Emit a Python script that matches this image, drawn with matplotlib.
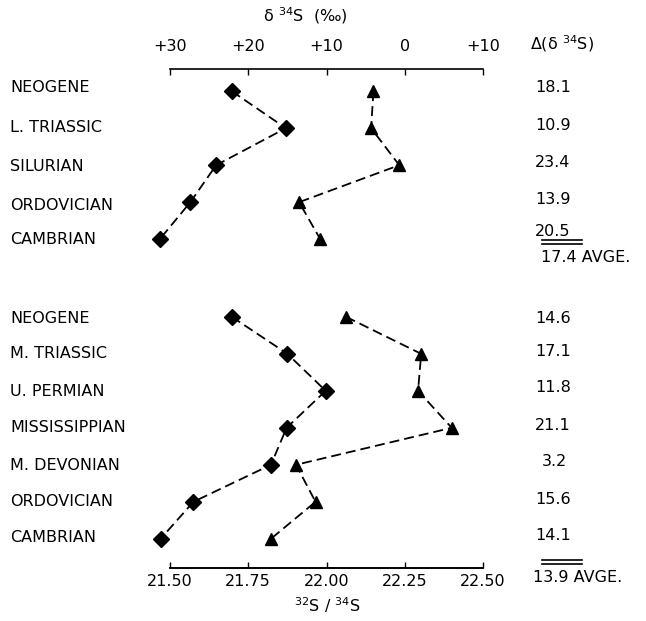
import matplotlib
matplotlib.use("Agg")
import matplotlib.pyplot as plt
from matplotlib.lines import Line2D

# ---- data (delta 34S, per mil) ----
upper_periods = ["NEOGENE", "L. TRIASSIC", "SILURIAN", "ORDOVICIAN", "CAMBRIAN"]
upper_sulfate = [22.1, 15.2, 24.1, 27.4, 31.3]      # diamonds
upper_sulfide = [4.0, 4.3, 0.7, 13.5, 10.8]          # triangles
upper_delta = ["18.1", "10.9", "23.4", "13.9", "20.5"]
upper_avg = "17.4"

lower_periods = ["NEOGENE", "M. TRIASSIC", "U. PERMIAN", "MISSISSIPPIAN",
                 "M. DEVONIAN", "ORDOVICIAN", "CAMBRIAN"]
lower_sulfate = [22.1, 15.0, 10.1, 15.1, 17.1, 27.0, 31.2]
lower_sulfide = [7.5, -2.1, -1.7, -6.0, 13.9, 11.4, 17.1]
lower_delta = ["14.6", "17.1", "11.8", "21.1", "3.2", "15.6", "14.1"]
lower_avg = "13.9"

top_ticks = [30, 20, 10, 0, -10]
top_ticklabels = ["+30", "+20", "+10", "0", "+10"]
ratio_ticks = [21.50, 21.75, 22.00, 22.25, 22.50]
ratio_ticklabels = ["21.50", "21.75", "22.00", "22.25", "22.50"]

FONT = "DejaVu Sans"
plt.rcParams["font.family"] = [FONT]

W, H = 646, 621
fig = plt.figure(figsize=(W / 100, H / 100), dpi=100)
ax = fig.add_axes([170 / W, 1 - 568 / H, 313 / W, (568 - 69) / H])

ax.set_xlim(30, -10)
ax.set_ylim(13.49, 0)

upper_y = [0.6 + i for i in range(len(upper_periods))]
lower_y = [6.7 + i for i in range(len(lower_periods))]

line_kw = dict(color="black", lw=1.3, linestyle=(0, (5.5, 2.8)), clip_on=False)
for ys, sulf, sulfd in [(upper_y, upper_sulfate, upper_sulfide),
                        (lower_y, lower_sulfate, lower_sulfide)]:
    ax.plot(sulf, ys, marker="D", markersize=8.5, markerfacecolor="black",
            markeredgecolor="black", **line_kw)
    ax.plot(sulfd, ys, marker="^", markersize=8, markerfacecolor="black",
            markeredgecolor="black", **line_kw)

# spines: only top and bottom rules
for s in ("left", "right"):
    ax.spines[s].set_visible(False)
for s in ("top", "bottom"):
    ax.spines[s].set_linewidth(1.2)
ax.set_yticks([])

# top axis: delta 34S
ax.xaxis.set_ticks_position("top")
ax.set_xticks(top_ticks)
ax.set_xticklabels(top_ticklabels, fontsize=11.5)
ax.tick_params(axis="x", direction="in", length=4, width=1, pad=11)

# bottom axis: 32S/34S ratio
def ratio_to_delta(r):
    return 30 - (r - 21.5) * 40

def delta_to_ratio(d):
    return 21.5 + (30 - d) / 40

sec = ax.secondary_xaxis("bottom", functions=(delta_to_ratio, ratio_to_delta))
sec.set_xticks(ratio_ticks)
sec.set_xticklabels(ratio_ticklabels, fontsize=11.5)
sec.tick_params(direction="in", length=4, width=1, pad=4)
sec.spines["bottom"].set_linewidth(1.2)

# axis titles
fig.text(305 / W, 1 - 16 / H, r"δ $^{34}$S  (‰)", ha="center", va="center",
         fontsize=11.5)
fig.text(327 / W, 1 - 605 / H, r"$^{32}$S / $^{34}$S", ha="center", va="center",
         fontsize=11.5)

# left labels
label_px_upper = [88, 127, 166, 205, 240]
label_px_lower = [319, 354, 391, 428, 466, 502, 537]
for name, py in zip(upper_periods + lower_periods, label_px_upper + label_px_lower):
    fig.text(10 / W, 1 - py / H, name, ha="left", va="center", fontsize=11.5)

# right column: delta(delta 34S)
fig.text(530 / W, 1 - 44 / H, r"Δ(δ $^{34}$S)", ha="left", va="center",
         fontsize=11.5)
val_px_upper = [88, 125, 162, 200, 231]
val_px_lower = [318, 352, 388, 425, 462, 499, 536]
for v, py in zip(upper_delta + lower_delta, val_px_upper + val_px_lower):
    x = 542 if len(v) == 3 else 535
    fig.text(x / W, 1 - py / H, v, ha="left", va="center", fontsize=11.5)

def double_rule(y_px):
    for dy in (0, 4):
        fig.add_artist(Line2D([542 / W, 582 / W], [1 - (y_px + dy) / H] * 2,
                              color="black", lw=1.2))

double_rule(240)
double_rule(560)
fig.text(541 / W, 1 - 257 / H, upper_avg + " AVGE.", ha="left", va="center",
         fontsize=11.5)
fig.text(533 / W, 1 - 577 / H, lower_avg + " AVGE.", ha="left", va="center",
         fontsize=11.5)

fig.savefig("out.png", dpi=100, facecolor="white")
